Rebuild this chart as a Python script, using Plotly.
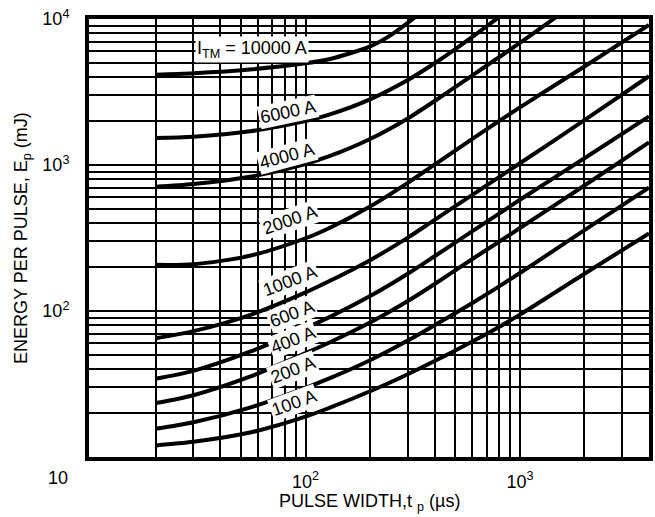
import plotly.graph_objects as go

# Pulse width (µs) sampling points shared by the lower-current curves
pulse_us = [20, 30, 55, 100, 130, 200, 300, 400, 600, 780, 1000, 2000, 4000]

# Energy per pulse (mJ) for each peak on-state current
t_10000 = [20, 30, 55, 100, 130, 200, 250, 330]
e_10000 = [4150, 4250, 4510, 4970, 5320, 6490, 7760, 10500]

t_6000 = [20, 30, 55, 100, 130, 200, 300, 400, 500, 600, 800]
e_6000 = [1530, 1563, 1702, 2000, 2223, 2818, 3820, 4977, 6223, 7534, 10330]

t_4000 = [20, 30, 55, 100, 130, 200, 300, 400, 600, 780, 1000, 1500]
e_4000 = [710, 740, 830, 1016, 1153, 1507, 2084, 2742, 4111, 5346, 6855, 10500]

e_2000 = [207, 209, 239, 315, 372, 520, 755, 1007, 1510, 1954, 2483, 4730, 9100]
e_1000 = [65, 72.8, 93.8, 134, 161, 223, 318, 421, 625, 807, 1028, 2028, 4055]
e_600 = [34.4, 38.9, 52.6, 76.4, 91.2, 126.5, 180, 237, 352, 454, 578, 1112, 2150]
e_400 = [23.4, 26.5, 35.5, 51.4, 61.1, 83.4, 117, 153, 227, 291, 370, 724, 1430]
e_200 = [15.6, 17.3, 21.8, 29.8, 34.7, 46.0, 62.7, 79.8, 113.5, 144, 182, 358, 700]
e_100 = [12.0, 12.7, 14.7, 18.9, 21.8, 28.2, 36.9, 45.4, 61.8, 76.2, 94.4, 180, 340]

curves = [
    ("10000 A", t_10000, e_10000),
    ("6000 A", t_6000, e_6000),
    ("4000 A", t_4000, e_4000),
    ("2000 A", pulse_us, e_2000),
    ("1000 A", pulse_us, e_1000),
    ("600 A", pulse_us, e_600),
    ("400 A", pulse_us, e_400),
    ("200 A", pulse_us, e_200),
    ("100 A", pulse_us, e_100),
]

# Decade ticks (labelled) and the 2..9 sub-divisions drawn as minor grid
x_major = [100, 1000]
x_major_text = ["10<sup>2</sup>", "10<sup>3</sup>"]
x_minor = [20, 30, 40, 50, 60, 70, 80, 90,
           200, 300, 400, 500, 600, 700, 800, 900,
           2000, 3000]
y_major = [100, 1000, 10000]
y_major_text = ["10<sup>2</sup>", "10<sup>3</sup>", "10<sup>4</sup>"]
y_minor = [20, 30, 40, 50, 60, 70, 80, 90,
           200, 300, 400, 500, 600, 700, 800, 900,
           2000, 3000, 4000, 5000, 6000, 7000, 8000, 9000]

FONT = "Liberation Sans, Arial, Helvetica, sans-serif"

fig = go.Figure()
for name, t, e in curves:
    fig.add_trace(go.Scatter(
        x=t, y=e, mode="lines", name=name,
        line=dict(color="black", width=4, shape="spline", smoothing=0.8),
        showlegend=False, hoverinfo="skip",
    ))

# Curve labels: (text, log10 x, log10 y, angle)
curve_labels = [
    ("I<sub>TM</sub> = 10000 A", 1.748, 3.790, 0),
    ("6000 A", 1.916, 3.363, -12),
    ("4000 A", 1.912, 3.062, -15),
    ("2000 A", 1.926, 2.623, -19),
    ("1000 A", 1.926, 2.205, -21),
    ("600 A", 1.935, 1.979, -21),
    ("400 A", 1.940, 1.801, -21),
    ("200 A", 1.940, 1.596, -21),
    ("100 A", 1.944, 1.370, -20),
]
for text, lx, ly, ang in curve_labels:
    fig.add_annotation(
        x=lx, y=ly, xref="x", yref="y", text=text, showarrow=False,
        textangle=ang, bgcolor="white", borderpad=1,
        font=dict(family=FONT, size=18, color="black"),
        xanchor="center", yanchor="middle",
    )

# Shared corner label for the lowest decade of both axes
fig.add_annotation(
    x=0, y=0, xref="paper", yref="paper", text="10", showarrow=False,
    xshift=-31, yshift=-21, xanchor="center", yanchor="middle",
    font=dict(family=FONT, size=18, color="black"),
)
# Axis titles
fig.add_annotation(
    x=0.5, y=0, xref="paper", yref="paper",
    text="PULSE WIDTH,t <sub>p</sub> (µs)", showarrow=False,
    yshift=-45, xanchor="center", yanchor="middle",
    font=dict(family=FONT, size=18, color="black"),
)
fig.add_annotation(
    x=0, y=0.5, xref="paper", yref="paper",
    text="ENERGY PER PULSE, E<sub>p</sub> (mJ)", showarrow=False,
    xshift=-67, xanchor="center", yanchor="middle", textangle=-90,
    font=dict(family=FONT, size=18, color="black"),
)

axis_common = dict(
    type="log", showline=True, mirror=True, linewidth=4, linecolor="black",
    showgrid=True, gridcolor="black", gridwidth=2, zeroline=False,
    ticks="", tickmode="array",
    tickfont=dict(family=FONT, size=18, color="black"),
)
fig.update_xaxes(
    range=[0.99, 3.602], tickvals=x_major, ticktext=x_major_text,
    minor=dict(tickmode="array", tickvals=x_minor, showgrid=True,
               gridcolor="black", gridwidth=2, ticks=""),
    ticklabelstandoff=5, **axis_common,
)
fig.update_yaxes(
    range=[1, 4], tickvals=y_major, ticktext=y_major_text,
    minor=dict(tickmode="array", tickvals=y_minor, showgrid=True,
               gridcolor="black", gridwidth=2, ticks=""),
    ticklabelstandoff=12, **axis_common,
)

fig.update_layout(
    width=655, height=517,
    margin=dict(l=89, r=2, t=19, b=60),
    paper_bgcolor="white", plot_bgcolor="white",
    font=dict(family=FONT, color="black"),
)

fig.write_html("out.html")
